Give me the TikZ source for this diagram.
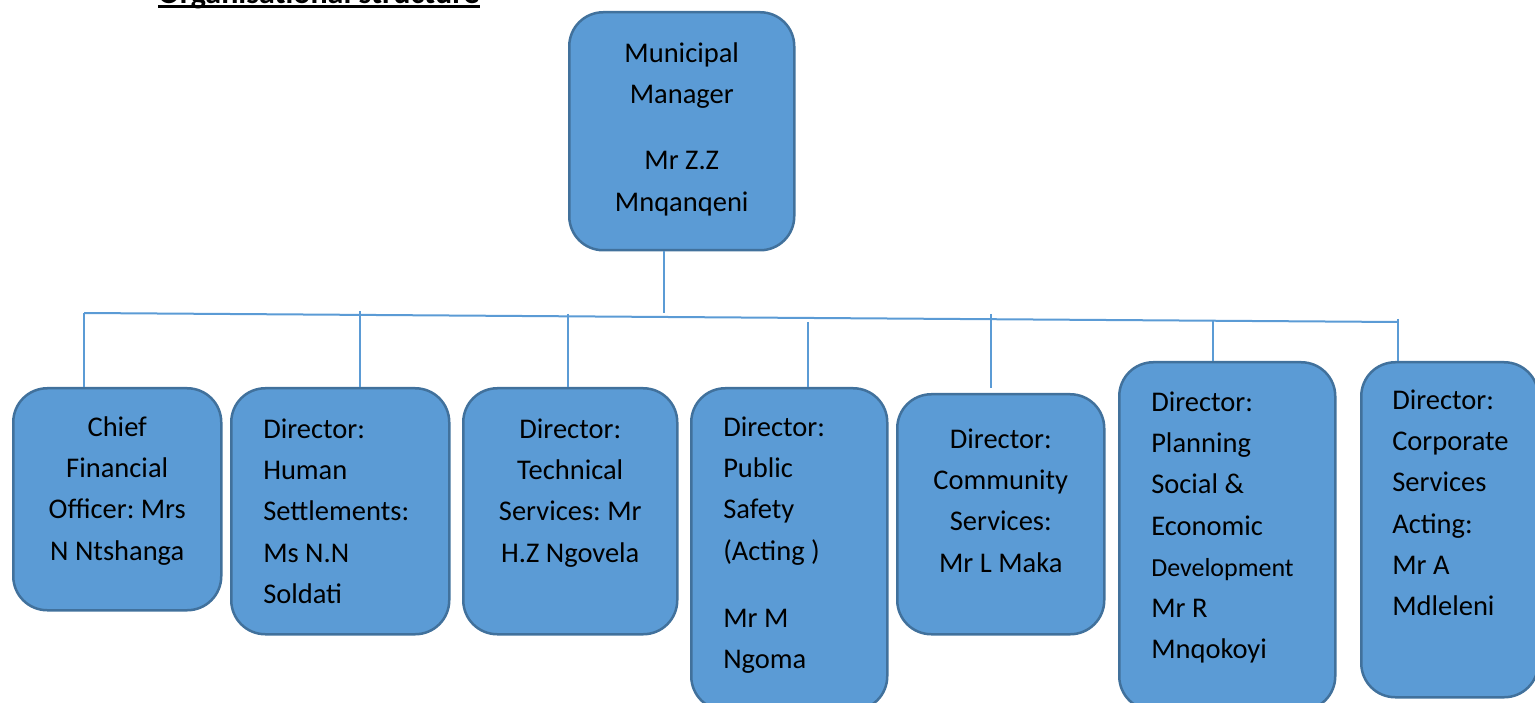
\documentclass[tikz,border=0pt]{standalone}
\usepackage{fontspec}
\setmainfont{Carlito}
\frenchspacing
\definecolor{boxfill}{HTML}{5B9BD5}
\definecolor{boxedge}{HTML}{41719C}
\newcommand{\boxtext}[5]{\parbox[t][#2pt][t]{#1pt}{#4\vspace*{#3pt}\strut #5}}
\newcommand{\leftpad}{\raggedright\leftskip=32pt }

\begin{document}
\begin{tikzpicture}[x=1pt, y=-1pt,
    orgbox/.style={draw=boxedge, fill=boxfill, line width=2.5pt, rounded corners=34pt,
                   inner sep=0pt, anchor=north west, font=\fontsize{28.5}{41.3}\selectfont},
    link/.style={draw=boxfill, line width=2pt}]
    \useasboundingbox (0,0) rectangle (1535,703);

    % Title (cut at the top edge)
    \node[anchor=base west, inner sep=0pt, font=\fontsize{32}{38}\selectfont\bfseries] (title) at (158,3.5) {Organisational structure};
    \draw[line width=2.5pt] ([yshift=-3pt]title.base west) -- ([yshift=-3pt]title.base east);

    % Municipal Manager
    \node[orgbox] (mm) at (568,11) {\boxtext{225}{238}{21}{\centering}{Municipal\\Manager\\[25pt]Mr Z.Z\\Mnqanqeni}};

    % Directors
    \node[orgbox] (cfo) at (12,387) {\boxtext{208}{222}{19}{\centering}{Chief\\Financial\\Officer: Mrs\\N Ntshanga}};
    \node[orgbox] (hs) at (230,387) {\boxtext{218}{246}{21}{\leftpad}{Director:\\Human\\Settlements:\\Ms N.N\\Soldati}};
    \node[orgbox] (ts) at (462,387) {\boxtext{214}{246}{21}{\centering}{Director:\\Technical\\Services: Mr\\H.Z Ngovela}};
    \node[orgbox] (ps) at (690,387) {\boxtext{196}{322}{19}{\leftpad}{Director:\\Public\\Safety\\(Acting )\\[26pt]Mr M\\Ngoma}};
    \node[orgbox] (cs) at (896,393) {\boxtext{207}{240}{25}{\centering}{Director:\\Community\\Services:\\Mr L Maka}};
    \node[orgbox] (psed) at (1118,361) {\boxtext{216}{348}{20}{\leftpad}{Director:\\Planning\\Social \&\\Economic\\{\fontsize{26}{41.3}\selectfont Development}\\Mr R\\Mnqokoyi}};
    \node[orgbox] (corp) at (1360,361) {\boxtext{177}{335}{18}{\raggedright\leftskip=31pt }{Director:\\Corporate\\Services\\Acting:\\Mr A\\Mdleleni}};

    % Connectors
    \coordinate (hub) at (664,313);
    \draw[link] (hub |- mm.south) -- (hub);
    \coordinate (barw) at (84,313);
    \coordinate (bare) at (1398,322);
    \draw[link] (barw) -- (bare);
    \foreach \b/\x/\y in {cfo/84/313, hs/360/311, ts/568/314, ps/808/322, psed/1213/321, corp/1398/319}{
        \coordinate (top\b) at (\x,\y);
        \draw[link] (top\b) -- (top\b |- \b.north);
    }
    \coordinate (topcs) at (991,314);
    \draw[link, shorten >=5pt] (topcs) -- (topcs |- cs.north);
\end{tikzpicture}
\end{document}
